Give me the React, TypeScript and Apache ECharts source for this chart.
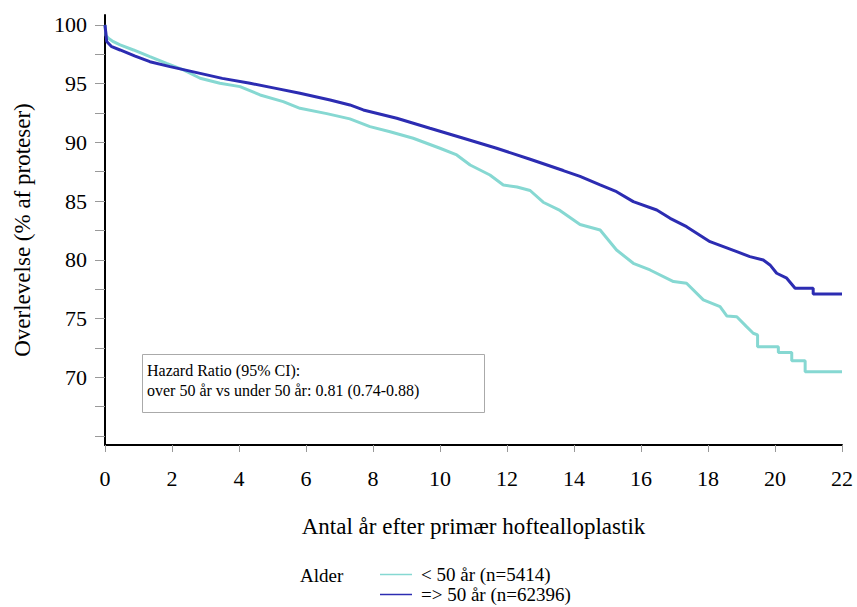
import React, { useEffect, useRef } from "react";
import * as echarts from "echarts";

const seriesNames = ["< 50 år (n=5414)", "=> 50 år (n=62396)"];
const colors = ["#86d8d2", "#2c2cb2"];

const timeUnder50 = [0, 0.03, 0.1, 0.25, 0.45, 0.85, 1.34, 1.84, 2.34, 2.84, 3.43, 4.03, 4.63, 5.32, 5.82, 6.62, 7.31, 7.91, 8.51, 9.2, 10.0, 10.5, 10.9, 11.49, 11.89, 12.3, 12.69, 13.08, 13.58, 14.18, 14.78, 15.27, 15.77, 16.27, 16.97, 17.36, 17.86, 18.36, 18.56, 18.86, 19.15, 19.35, 19.48, 19.48, 20.1, 20.1, 20.5, 20.5, 20.9, 20.9, 22];
const survUnder50 = [100, 99.1, 98.87, 98.58, 98.3, 97.87, 97.3, 96.73, 96.17, 95.46, 95.03, 94.75, 94.04, 93.47, 92.9, 92.45, 92.0, 91.34, 90.91, 90.35, 89.5, 88.93, 88.07, 87.22, 86.37, 86.2, 85.9, 84.9, 84.2, 83.0, 82.54, 80.83, 79.7, 79.13, 78.14, 78.0, 76.58, 76.0, 75.21, 75.15, 74.3, 73.74, 73.6, 72.6, 72.6, 72.09, 72.09, 71.4, 71.4, 70.47, 70.47];

const timeOver50 = [0, 0.05, 0.2, 0.45, 0.9, 1.34, 1.94, 2.84, 3.5, 4.33, 5.1, 5.82, 6.72, 7.31, 7.71, 8.71, 9.7, 10.7, 11.69, 12.69, 13.68, 14.18, 14.78, 15.27, 15.77, 16.47, 16.87, 17.36, 18.06, 18.46, 18.86, 19.25, 19.65, 19.85, 20.05, 20.35, 20.6, 21.14, 21.14, 22];
const survOver50 = [100, 98.6, 98.15, 97.87, 97.35, 96.87, 96.45, 95.88, 95.45, 95.03, 94.6, 94.18, 93.61, 93.19, 92.76, 92.05, 91.2, 90.35, 89.5, 88.56, 87.6, 87.1, 86.37, 85.8, 84.95, 84.24, 83.53, 82.82, 81.54, 81.12, 80.69, 80.27, 79.98, 79.56, 78.85, 78.43, 77.57, 77.57, 77.09, 77.09];

const xTicks = [0, 2, 4, 6, 8, 10, 12, 14, 16, 18, 20, 22];
const yTickValues = [65, 67.5, 70, 72.5, 75, 77.5, 80, 82.5, 85, 87.5, 90, 92.5, 95, 97.5, 100];
const yLabelValues = [70, 75, 80, 85, 90, 95, 100];

const legendTitle = "Alder";
const hazardLines = ["Hazard Ratio (95% CI):", "over 50 år vs under 50 år: 0.81 (0.74-0.88)"];
const xTitle = "Antal år efter primær hoftealloplastik";
const yTitle = "Overlevelse (% af proteser)";

const FONT = '"Liberation Serif", "Times New Roman", serif';

export default function App() {
  const ref = useRef<HTMLDivElement>(null);
  useEffect(() => {
    if (!ref.current) return;
    const chart = echarts.init(ref.current, undefined, { renderer: "svg" });
    const pairs = (t: number[], v: number[]) => t.map((x, i) => [x, v[i]]);
    chart.setOption({
      animation: false,
      backgroundColor: "#ffffff",
      textStyle: { fontFamily: FONT, color: "#000" },
      grid: { left: 105, right: 15, top: 15, bottom: 162, containLabel: false },
      xAxis: {
        type: "value",
        min: 0,
        max: 22,
        interval: 2,
        axisLine: { show: true, lineStyle: { color: "#000", width: 2 } },
        axisTick: { show: true, length: 7, lineStyle: { color: "#999", width: 1 }, customValues: xTicks },
        axisLabel: { fontSize: 22, fontFamily: FONT, color: "#000", margin: 22, customValues: xTicks },
        splitLine: { show: false },
        name: xTitle,
        nameLocation: "middle",
        nameGap: 70,
        nameTextStyle: { fontSize: 23, fontFamily: FONT, color: "#000" },
      },
      yAxis: {
        type: "value",
        min: 64.22,
        max: 100.85,
        axisLine: { show: true, lineStyle: { color: "#000", width: 2 } },
        axisTick: { show: true, length: 10, lineStyle: { color: "#999", width: 1 }, customValues: yTickValues },
        axisLabel: { fontSize: 22, fontFamily: FONT, color: "#000", margin: 18, customValues: yLabelValues },
        splitLine: { show: false },
        name: yTitle,
        nameLocation: "middle",
        nameGap: 71,
        nameRotate: 90,
        nameTextStyle: { fontSize: 23, fontFamily: FONT, color: "#000" },
      },
      legend: {
        show: true,
        orient: "vertical",
        left: 380,
        top: 565,
        height: 60,
        padding: 0,
        icon: "rect",
        itemWidth: 32,
        itemHeight: 1.5,
        itemGap: 1,
        textStyle: { fontSize: 19, fontFamily: FONT, color: "#000", lineHeight: 19, padding: [0, 0, 0, 4] },
        data: seriesNames,
      },
      graphic: [
        {
          type: "text",
          x: 300,
          y: 575,
          style: { text: legendTitle, fontSize: 19, fontFamily: FONT, fill: "#000", verticalAlign: "middle" },
        },
        {
          type: "rect",
          shape: { x: 142.5, y: 354.5, width: 342, height: 58 },
          style: { fill: "#fff", stroke: "#aaa", lineWidth: 1 },
          z: 10,
        },
        {
          type: "text",
          x: 147,
          y: 370,
          style: { text: hazardLines[0], fontSize: 16, fontFamily: FONT, fill: "#000", verticalAlign: "middle" },
          z: 11,
        },
        {
          type: "text",
          x: 147,
          y: 390,
          style: { text: hazardLines[1], fontSize: 16, fontFamily: FONT, fill: "#000", verticalAlign: "middle" },
          z: 11,
        },
      ],
      series: [
        {
          name: seriesNames[0],
          type: "line",
          data: pairs(timeUnder50, survUnder50),
          showSymbol: false,
          symbol: "none",
          lineStyle: { color: colors[0], width: 3 },
          itemStyle: { color: colors[0] },
          z: 2,
        },
        {
          name: seriesNames[1],
          type: "line",
          data: pairs(timeOver50, survOver50),
          showSymbol: false,
          symbol: "none",
          lineStyle: { color: colors[1], width: 3 },
          itemStyle: { color: colors[1] },
          z: 3,
        },
      ],
    });
    return () => chart.dispose();
  }, []);
  return <div ref={ref} style={{ width: 857, height: 607, position: "absolute", left: 0, top: 0 }} />;
}
